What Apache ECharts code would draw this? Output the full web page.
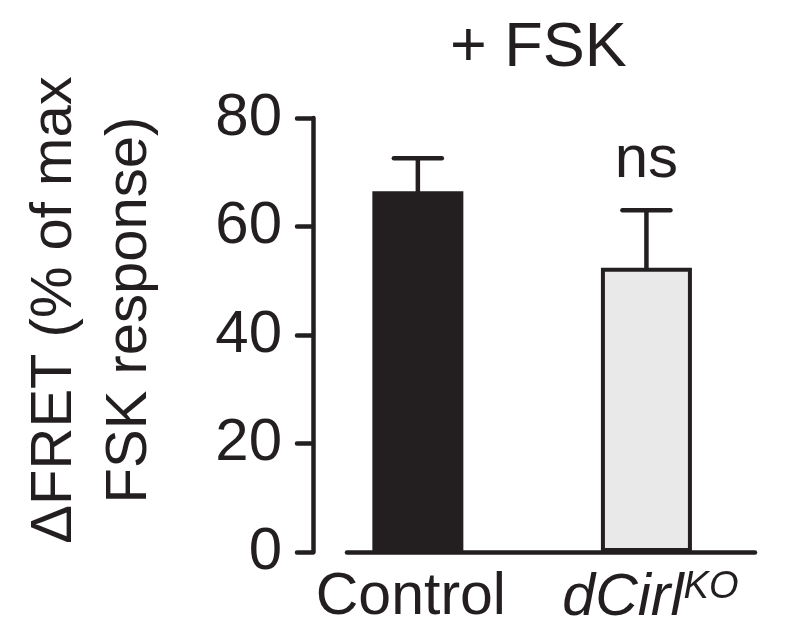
<!DOCTYPE html>
<html>
<head>
<meta charset="utf-8">
<script src="https://cdn.jsdelivr.net/npm/echarts@6/dist/echarts.min.js"></script>
<style>
html,body{margin:0;padding:0;background:#fff;}
#chart{width:787px;height:642px;}
</style>
</head>
<body>
<div id="chart"></div>
<script>
// ---- data ----
var categories = ['Control', 'dCirl'];
var superscripts = ['', 'KO'];
var means = [66.5, 52.4];
var errorTops = [72.6, 63.0];
var sigLabels = ['', 'ns'];
var barColors = ['#231f20', '#e8e9e8'];
var yTicks = [0, 20, 40, 60, 80];
var titleText = '+ FSK';
var yNameLines = ['\u0394FRET (% of max', 'FSK response)'];

var INK = '#231f20';
var FONT = '"Liberation Sans", Arial, sans-serif';

var barData = means.map(function (v, i) {
  return { value: [i, v], itemStyle: { color: barColors[i] } };
});
var errData = means.map(function (v, i) { return [i, v, errorTops[i]]; });

var chart = echarts.init(document.getElementById('chart'), null, { renderer: 'canvas' });
chart.setOption({
  animation: false,
  backgroundColor: '#ffffff',
  title: {
    text: titleText,
    left: 445, top: 12,
    textStyle: { fontFamily: FONT, fontSize: 63, fontWeight: 'normal', color: INK }
  },
  graphic: [{
    type: 'text',
    x: 92, y: 310,
    rotation: Math.PI / 2,
    style: {
      text: yNameLines.join('\n'),
      fontFamily: FONT, fontSize: 58, lineHeight: 75,
      fill: INK, align: 'center', verticalAlign: 'middle'
    }
  }],
  grid: { left: 347, right: 32, top: 118, bottom: 90, containLabel: false },
  xAxis: {
    type: 'value',
    min: -0.31, max: 1.475,
    axisLine: { show: true, onZero: false, lineStyle: { color: INK, width: 4.5, cap: 'round' } },
    axisTick: { show: false },
    splitLine: { show: false },
    axisLabel: {
      show: true,
      customValues: [0, 1],
      margin: 16,
      formatter: function (val) {
        var i = Math.round(val);
        if (i === 0) return '{n|' + categories[0] + '}';
        return '{i|' + categories[1] + '}{s|' + superscripts[1] + '}';
      },
      rich: {
        n: { fontFamily: FONT, fontSize: 59, color: INK, padding: [0, 14, 0, 0] },
        i: { fontFamily: FONT, fontSize: 59, fontStyle: 'italic', color: INK, padding: [0, 0, 0, 8] },
        s: { fontFamily: FONT, fontSize: 38, fontStyle: 'italic', color: INK, padding: [0, 0, 24, 0] }
      }
    }
  },
  yAxis: {
    type: 'value',
    min: 0, max: 80, interval: 20,
    offset: 34,
    axisLine: { show: true, onZero: false, lineStyle: { color: INK, width: 4.5, cap: 'round' } },
    axisTick: { show: true, length: 16, lineStyle: { color: INK, width: 4.5, cap: 'round' } },
    splitLine: { show: false },
    axisLabel: {
      margin: 31,
      fontFamily: FONT, fontSize: 60, color: INK,
      formatter: function (v) { return String(v); }
    }
  },
  series: [{
    type: 'bar',
    data: barData,
    barWidth: 91,
    itemStyle: { borderColor: INK, borderWidth: 4 },
    z: 2
  }, {
    type: 'custom',
    data: errData,
    encode: { x: 0, y: [1, 2] },
    z: 3,
    renderItem: function (params, api) {
      var x = api.value(0);
      var base = api.coord([x, api.value(1)]);
      var top = api.coord([x, api.value(2)]);
      var half = 24;
      var lineStyle = { stroke: INK, lineWidth: 4.5, lineCap: 'round' };
      var children = [
        { type: 'line', shape: { x1: top[0], y1: base[1], x2: top[0], y2: top[1] }, style: lineStyle },
        { type: 'line', shape: { x1: top[0] - half, y1: top[1], x2: top[0] + half, y2: top[1] }, style: lineStyle }
      ];
      var lbl = sigLabels[params.dataIndex];
      if (lbl) {
        children.push({
          type: 'text', x: top[0], y: top[1] - 20,
          style: { text: lbl, fontFamily: FONT, fontSize: 60, fill: INK, align: 'center', verticalAlign: 'bottom' }
        });
      }
      return { type: 'group', children: children };
    }
  }]
});
</script>
</body>
</html>
